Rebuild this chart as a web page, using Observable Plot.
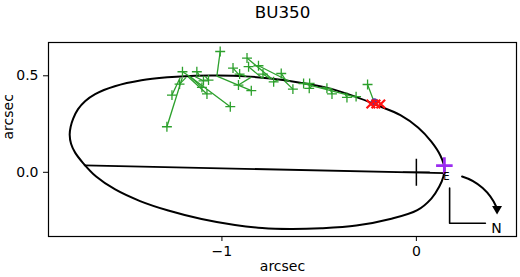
<!DOCTYPE html>
<html><head><meta charset="utf-8">
<script src="https://cdn.jsdelivr.net/npm/d3@7"></script>
<script src="https://cdn.jsdelivr.net/npm/@observablehq/plot@0.6"></script>
<style>html,body{margin:0;padding:0;background:#fff;} svg{display:block;}</style>
</head><body><div id="chart"></div>
<script>
const title = "BU350";
const xLabel = "arcsec";
const yLabel = "arcsec";
const xTicks = [-1, 0];
const yTicks = [0.0, 0.5];

// orbit (apparent ellipse)
const orbitX = [-1.783,-1.778,-1.765,-1.740,-1.704,-1.652,-1.551,-1.414,-1.280,-1.137,-1.019,-0.880,-0.751,-0.597,-0.453,-0.314,-0.196,-0.082,0.010,0.077,0.124,0.144,0.139,0.118,0.077,0.005,-0.134,-0.309,-0.489,-0.649,-0.793,-0.933,-1.105,-1.276,-1.421,-1.549,-1.647,-1.714,-1.755,-1.776];
const orbitY = [0.195,0.236,0.278,0.327,0.368,0.405,0.446,0.477,0.492,0.500,0.501,0.497,0.486,0.464,0.436,0.392,0.345,0.296,0.231,0.159,0.086,0.024,-0.022,-0.074,-0.136,-0.196,-0.242,-0.276,-0.290,-0.294,-0.289,-0.273,-0.242,-0.198,-0.149,-0.089,-0.022,0.048,0.102,0.148];

// line of apsides
const apsidesX = [-1.706, 0.146];
const apsidesY = [0.036, -0.004];

// observations (green) and their predicted positions on the orbit
const obsX = [-1.283,-1.257,-1.218,-1.203,-1.129,-1.095,-1.103,-1.077,-1.069,-1.009,-0.957,-0.943,-0.909,-0.915,-0.849,-0.871,-0.863,-0.812,-0.789,-0.734,-0.695,-0.635,-0.580,-0.549,-0.551,-0.460,-0.434,-0.357,-0.310,-0.251];
const obsY = [0.236,0.400,0.457,0.521,0.521,0.474,0.440,0.406,0.478,0.626,0.340,0.540,0.509,0.452,0.423,0.592,0.547,0.552,0.509,0.469,0.512,0.431,0.460,0.460,0.435,0.435,0.406,0.388,0.392,0.455];
const predX = [-1.204,-1.215,-1.184,-1.163,-1.112,-1.137,-1.163,-1.174,-1.086,-1.026,-1.163,-0.906,-0.875,-0.849,-1.026,-0.741,-0.793,-0.649,-0.751,-0.710,-0.669,-0.679,-0.320,-0.540,-0.530,-0.484,-0.443,-0.371,-0.324,-0.216];
const predY = [0.490,0.490,0.492,0.495,0.496,0.495,0.495,0.495,0.497,0.498,0.495,0.498,0.497,0.493,0.498,0.482,0.488,0.469,0.483,0.479,0.473,0.474,0.392,0.454,0.452,0.443,0.433,0.412,0.394,0.361];

// special points
const redX = [-0.234, -0.208, -0.183];
const redY = [0.354, 0.354, 0.354];
const blueX = [-0.216], blueY = [0.366];
const primaryX = [0], primaryY = [0];
const periX = [0.144], periY = [0.035];

// orientation marker (E / N)
const eX = [0.154], eY = [-0.022], eText = ["E"];
const nX = [0.412], nY = [-0.293], nText = ["N"];
const cornerX = [0.171, 0.171, 0.355];
const cornerY = [-0.081, -0.264, -0.264];
const arrowX = [0.235, 0.412];
const arrowY = [-0.022, -0.181];
const headX = [0.415], headY = [-0.189];

const orbit = orbitX.map((x, i) => ({x, y: orbitY[i]}));
const oc = obsX.map((x, i) => ({x, y: obsY[i], px: predX[i], py: predY[i]}));
const pts = (X, Y) => X.map((x, i) => ({x, y: Y[i]}));

const green = "#2ca02c";
const chart = Plot.plot({
  width: 520, height: 277,
  marginLeft: 48, marginRight: 4, marginTop: 42, marginBottom: 41,
  style: {fontFamily: "DejaVu Sans", fontSize: "14px", color: "black", background: "white"},
  x: {domain: [-1.892, 0.515]},
  y: {domain: [-0.3326, 0.6725]},
  marks: [
    Plot.line(orbit, {x: "x", y: "y", curve: "catmull-rom-closed", stroke: "black", strokeWidth: 2}),
    Plot.line(pts(apsidesX, apsidesY), {x: "x", y: "y", stroke: "black", strokeWidth: 1.8}),
    Plot.link(oc, {x1: "x", y1: "y", x2: "px", y2: "py", stroke: green, strokeWidth: 1.3}),
    Plot.dot(oc, {x: "x", y: "y", symbol: "plus", r: 3.3, stroke: green, strokeWidth: 1.3}),
    Plot.dot(pts(blueX, blueY), {x: "x", y: "y", r: 3.5, fill: "#4a3ab0"}),
    Plot.dot(pts(redX, redY), {x: "x", y: "y", symbol: "times", r: 4, stroke: "#ff1010", strokeWidth: 2.2}),
    Plot.dot(pts(primaryX, primaryY), {x: "x", y: "y", symbol: "plus", r: 8.7, stroke: "black", strokeWidth: 1.5}),
    Plot.dot(pts(periX, periY), {x: "x", y: "y", symbol: "plus", r: 5.4, stroke: "#9b2cf0", strokeWidth: 2.8}),
    Plot.text(pts(eX, eY).map((d, i) => ({...d, t: eText[i]})), {x: "x", y: "y", text: "t", fontSize: 10}),
    Plot.text(pts(nX, nY).map((d, i) => ({...d, t: nText[i]})), {x: "x", y: "y", text: "t", fontSize: 14}),
    Plot.line(pts(cornerX, cornerY), {x: "x", y: "y", stroke: "black", strokeWidth: 1.6}),
    Plot.arrow([0], {x1: () => arrowX[0], y1: () => arrowY[0], x2: () => arrowX[1], y2: () => arrowY[1], bend: 25, headLength: 0, stroke: "black", strokeWidth: 2}),
    Plot.dot(pts(headX, headY), {x: "x", y: "y", symbol: "triangle", r: 3.7, rotate: 180, fill: "black", stroke: "none"}),
    Plot.frame({stroke: "black", strokeWidth: 1.2}),
    Plot.axisX(xTicks, {tickSize: 5, tickPadding: 5, tickFormat: d3.format("d"), label: null, fontSize: 14}),
    Plot.axisY(yTicks, {tickSize: 5, tickPadding: 5, tickFormat: d3.format(".1f"), label: null, fontSize: 14}),
    Plot.text([xLabel], {frameAnchor: "bottom", dy: 34, fontSize: 14}),
    Plot.text([yLabel], {frameAnchor: "left", dx: -40, rotate: -90, fontSize: 14}),
    Plot.text([title], {frameAnchor: "top", dy: -25, lineAnchor: "bottom", fontSize: 16.7})
  ]
});
document.getElementById("chart").append(chart);
</script>
</body></html>
